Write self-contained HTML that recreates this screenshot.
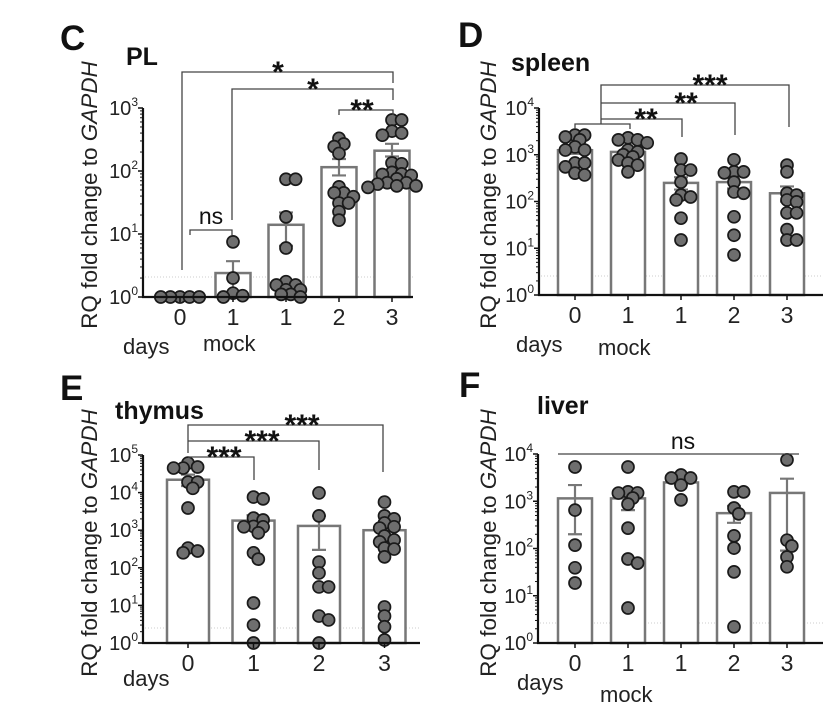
<!DOCTYPE html>
<html><head><meta charset="utf-8">
<style>
html,body{margin:0;padding:0;background:#fff;}
svg{display:block;font-family:"Liberation Sans",Arial,sans-serif;}
</style></head>
<body>
<svg id="fig" width="837" height="711" viewBox="0 0 837 711" xmlns="http://www.w3.org/2000/svg"></svg>
<script>
// ---------- Panel C: PL ----------
const pl_categories = ["0","1","1","2","3"];
const pl_means = [1, 2.4, 14, 115, 210];
const pl_err_hi = [1, 3.7, 22, 155, 270];
const pl_err_lo = [1, 1.1, 6.5, 85, 170];
const pl_points_0 = [1,1,1,1,1];
const pl_points_1 = [7.5,2.0,1.15,1.05,1.0];
const pl_points_2 = [74,74,18.7,6.0,1.75,1.55,1.55,1.3,1.3,1.1,1.1,1.0];
const pl_points_3 = [330,268,244,190,56,45,39,45,31,31,22.6,16.6];
const pl_points_4 = [645,645,430,370,400,134,130,90,95,88,85,65,65,58,58,62,55,75];
const pl_ticks = ["0","1","2","3"];

// ---------- Panel D: spleen ----------
const sp_categories = ["0","1","1","2","3"];
const sp_means = [1250, 1150, 250, 260, 150];
const sp_err_hi = [1500, 1350, 330, 340, 210];
const sp_err_lo = [1050, 1000, 180, 190, 100];
const sp_points_0 = [2630,2630,2400,2080,1470,1260,1260,665,665,550,405,370];
const sp_points_1 = [2080,2300,2080,1800,1260,1150,1000,900,770,665,600,430];
const sp_points_2 = [810,470,470,260,137,125,108,44,15];
const sp_points_3 = [780,430,410,430,260,160,150,47,19,7.2];
const sp_points_4 = [600,430,150,137,108,98,57,57,25,15,15];
const sp_ticks = ["0","1","2","3","4"];

// ---------- Panel E: thymus ----------
const th_categories = ["0","1","2","3"];
const th_means = [22000, 1800, 1300, 1000];
const th_err_hi = [30000, 2500, 2400, 1400];
const th_err_lo = [15000, 1200, 300, 650];
const th_points_0 = [61000,45000,45000,48000,19000,19000,13000,3900,335,250,280];
const th_points_1 = [6800,7600,2100,1870,1230,1260,850,250,170,11.6,3.0,1.0,1230];
const th_points_2 = [9800,2400,142,73,31,31,5.2,4.1,1];
const th_points_3 = [5600,2400,2000,1560,1230,1140,700,550,490,335,315,195,9.1,5.2,2.7,1.2];
const th_ticks = ["0","1","2","3","4","5"];

// ---------- Panel F: liver ----------
const lv_categories = ["0","1","1","2","3"];
const lv_means = [1150, 1150, 2500, 560, 1500];
const lv_err_hi = [2200, 1600, 2900, 800, 3000];
const lv_err_lo = [200, 650, 2200, 350, 90];
const lv_points_0 = [5300,650,118,39,18.6];
const lv_points_1 = [5300,1580,1490,1170,870,270,60,49,5.5,1500];
const lv_points_2 = [3600,3100,3100,2200,1070];
const lv_points_3 = [1580,1580,720,540,185,102,32,2.2];
const lv_points_4 = [7500,150,66,113,41];
const lv_ticks = ["0","1","2","3","4"];

const NS="http://www.w3.org/2000/svg";
const svg=document.getElementById('fig');
function mk(tag,attrs,parent){const e=document.createElementNS(NS,tag);for(const k in attrs)e.setAttribute(k,attrs[k]);(parent||svg).appendChild(e);return e;}

function panel(cfg){
  const g=mk('g',{});
  
  
  const yScale=v=>cfg.y0-Math.log10(v)*cfg.dec;
  const xScale=i=>cfg.cx0+i*cfg.step;
  const L=mk('text',{x:cfg.letterX,y:cfg.letterY,'font-size':35,'font-weight':'bold',fill:'#111'},g);L.textContent=cfg.letter;
  
  
  const T=mk('text',{x:cfg.titleX,y:cfg.titleY,'font-size':25,'font-weight':'bold',fill:'#111'},g);T.textContent=cfg.title;
  
  
  const yt=mk('text',{x:0,y:0,'font-size':22.5,fill:'#222','text-anchor':'middle',transform:`translate(${cfg.ytX},${cfg.ytY}) rotate(-90)`},g);
  
  
  yt.appendChild(document.createTextNode('RQ fold change to '));
  const it=mk('tspan',{'font-style':'italic'},yt);it.textContent='GAPDH';
  const th=mk('line',{x1:cfg.ax+2,x2:cfg.axEnd,y1:cfg.thY,y2:cfg.thY,stroke:'#ccc','stroke-width':1,'stroke-dasharray':'1,2'},g);
  
  
  const bw=cfg.bw;
  cfg.means.forEach((m,i)=>{
    const x=xScale(i);
    if(m>1){
      const r=mk('rect',{x:x-bw/2,y:yScale(m),width:bw,height:cfg.y0-yScale(m),fill:'#fff',stroke:'#777','stroke-width':2.5},g);
      
      
      const hi=yScale(cfg.hi[i]),lo=yScale(cfg.lo[i]);
      const e=mk('path',{d:`M${x},${hi}V${lo}M${x-7},${hi}H${x+7}M${x-7},${lo}H${x+7}`,stroke:'#777','stroke-width':2.2,fill:'none'},g);
      
      
    }
  });
  const D=12;
  cfg.points.forEach((arr,i)=>{
    const cx=xScale(i);const placed=[];
    const sorted=arr.slice().sort((a,b)=>b-a);
    sorted.forEach(v=>{
      const py=yScale(v);let best=0;
      for(let k=0;k<20;k++){
        const off=(k%2?1:-1)*Math.ceil(k/2)*D*0.4;
        if(placed.every(p=>Math.hypot(p[0]-(cx+off),p[1]-py)>=D*0.55)){best=off;break;}
      }
      placed.push([cx+best,py]);
      const c=mk('circle',{cx:cx+best,cy:py,r:6,fill:'#6e6e6e',stroke:'#1a1a1a','stroke-width':1.7},g);
      
      
    });
  });
  const ya=mk('line',{x1:cfg.ax,x2:cfg.ax,y1:cfg.y0+1,y2:yScale(Math.pow(10,cfg.ticks.length-1)),stroke:'#111','stroke-width':2.2},g);
  
  
  const xa=mk('line',{x1:cfg.ax-1,x2:cfg.axEnd,y1:cfg.y0,y2:cfg.y0,stroke:'#111','stroke-width':2.2},g);
  
  
  cfg.ticks.forEach((t,k)=>{
    const y=yScale(Math.pow(10,+t));
    mk('line',{x1:cfg.ax-5,x2:cfg.ax,y1:y,y2:y,stroke:'#111','stroke-width':1.5},g);
    if(k<cfg.ticks.length-1){for(let m=2;m<10;m++){const ym=yScale(m*Math.pow(10,+t));mk('line',{x1:cfg.ax-3,x2:cfg.ax,y1:ym,y2:ym,stroke:'#111','stroke-width':1},g);}}
    const tx=mk('text',{x:cfg.ax-5,y:y+7,'font-size':20,fill:'#222','text-anchor':'end'},g);
    
    
    tx.appendChild(document.createTextNode('10'));
    const s=mk('tspan',{'font-size':12,dy:-9},tx);s.textContent=t;
  });
  cfg.cats.forEach((c,i)=>{
    const x=xScale(i);
    mk('line',{x1:x,x2:x,y1:cfg.y0,y2:cfg.y0+5,stroke:'#111','stroke-width':1.5},g);
    const tx=mk('text',{x:x,y:cfg.y0+28,'font-size':23,fill:'#222','text-anchor':'middle'},g);tx.textContent=c;
    
    
  });
  cfg.extra.forEach(e=>{
    const tx=mk('text',{x:e[1],y:e[2],'font-size':22,fill:'#222'},g);tx.textContent=e[0];
    
    
  });
  cfg.brackets.forEach(b=>{
    const p=mk('path',{d:b.d,stroke:'#444','stroke-width':1.3,fill:'none'},g);
    
    
    const tx=mk('text',{x:b.tx,y:b.ty,'font-size':b.ns?23:30,'font-weight':b.ns?'normal':'bold',fill:'#111','text-anchor':'middle'},g);tx.textContent=b.t;
    
    
  });
}

panel({name:'panel-c-pl',letter:'C',letterX:60,letterY:50,title:'PL',titleX:126,titleY:65,ytX:97,ytY:195,
  y0:297,dec:63,ax:143,axEnd:413,cx0:180,step:53,bw:35,thY:277,
  means:pl_means,hi:pl_err_hi,lo:pl_err_lo,cats:pl_categories,ticks:pl_ticks,
  points:[pl_points_0,pl_points_1,pl_points_2,pl_points_3,pl_points_4],
  extra:[['days',123,354],['mock',203,351]],
  brackets:[
    {d:'M182,270V72H393V83',t:'*',tx:278,ty:82},
    {d:'M232,220V89H393V100',t:'*',tx:313,ty:99},
    {d:'M339,115V110H393V115',t:'**',tx:362,ty:120},
    {d:'M190,235V230H232V235',t:'ns',tx:211,ty:224,ns:true}]});

panel({name:'panel-d-spleen',letter:'D',letterX:458,letterY:47,title:'spleen',titleX:511,titleY:71,ytX:496,ytY:195,
  y0:295,dec:46.75,ax:539,axEnd:823,cx0:575,step:53,bw:34,thY:276,
  means:sp_means,hi:sp_err_hi,lo:sp_err_lo,cats:sp_categories,ticks:sp_ticks,
  points:[sp_points_0,sp_points_1,sp_points_2,sp_points_3,sp_points_4],
  extra:[['days',516,352],['mock',598,355]],
  brackets:[
    {d:'M575,129V124H630V129M601,124V85H789V127',t:'***',tx:710,ty:95},
    {d:'M601,103H735V135',t:'**',tx:686,ty:113},
    {d:'M601,119H682V137',t:'**',tx:646,ty:129}]});

panel({name:'panel-e-thymus',letter:'E',letterX:60,letterY:400,title:'thymus',titleX:115,titleY:419,ytX:97,ytY:543,
  y0:643,dec:37.6,ax:143,axEnd:420,cx0:188,step:65.5,bw:42,thY:628,
  means:th_means,hi:th_err_hi,lo:th_err_lo,cats:th_categories,ticks:th_ticks,
  points:[th_points_0,th_points_1,th_points_2,th_points_3],
  extra:[['days',123,686]],
  brackets:[
    {d:'M188,453V425H383V472',t:'***',tx:302,ty:435},
    {d:'M188,441H319V470',t:'***',tx:262,ty:451},
    {d:'M188,457H254V480',t:'***',tx:224,ty:467}]});

panel({name:'panel-f-liver',letter:'F',letterX:459,letterY:397,title:'liver',titleX:537,titleY:414,ytX:496,ytY:543,
  y0:643,dec:47.25,ax:538,axEnd:823,cx0:575,step:53,bw:34,thY:623,
  means:lv_means,hi:lv_err_hi,lo:lv_err_lo,cats:lv_categories,ticks:lv_ticks,
  points:[lv_points_0,lv_points_1,lv_points_2,lv_points_3,lv_points_4],
  extra:[['days',517,690],['mock',600,702]],
  brackets:[
    {d:'M558,454H799',t:'ns',tx:683,ty:449,ns:true}]});
</script>
</body></html>
